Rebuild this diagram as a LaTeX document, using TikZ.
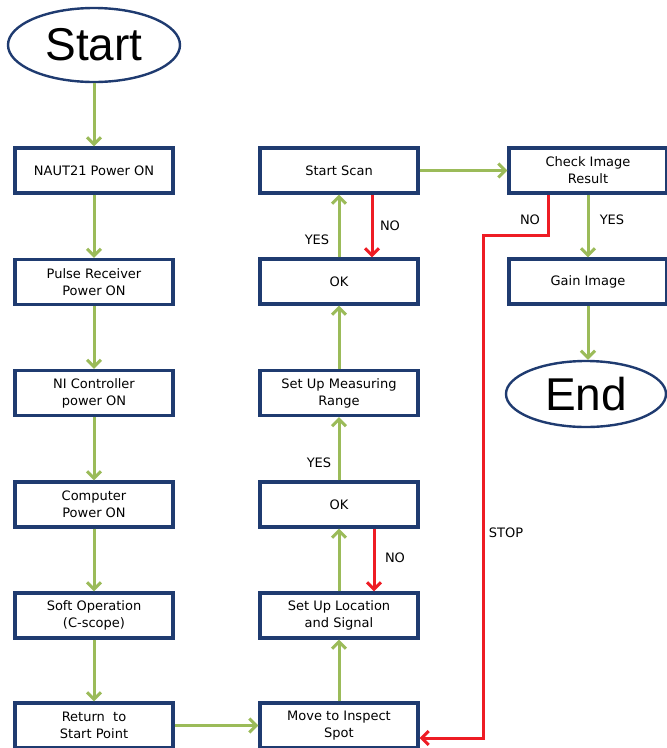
\documentclass[tikz,border=0pt]{standalone}
\usepackage{fontspec}
\setmainfont{DejaVu Sans}
\newfontfamily\bigfont{Liberation Sans}
\usetikzlibrary{arrows.meta,shapes.geometric}
\definecolor{boxblue}{HTML}{1F3B70}
\definecolor{flowgreen}{HTML}{9BBB59}
\definecolor{flowred}{HTML}{EE1C24}
\begin{document}
\begin{tikzpicture}[x=1pt,y=-1pt,
  stepbox/.style={draw=boxblue, line width=3.2pt, fill=white, minimum width=158pt, minimum height=45pt,
    align=center, inner sep=0pt, font=\fontsize{13}{17}\selectfont},
  term/.style={ellipse, draw=boxblue, line width=2.4pt, inner sep=0pt, font=\bigfont\fontsize{46}{50}\selectfont},
  garrow/.style={draw=flowgreen, line width=3pt, -{Straight Barb[length=7pt,width=14pt,line width=3pt]}},
  rarrow/.style={draw=flowred, line width=3pt, -{Straight Barb[length=7pt,width=14pt,line width=3pt]}},
  lbl/.style={font=\fontsize{13}{15}\selectfont, inner sep=0pt}]
\useasboundingbox (0,0) rectangle (667,748);
% left column
\node[term, minimum width=172pt, minimum height=74pt] (start) at (94,45) {Start};
\node[stepbox] (n1) at (94,170.5) {NAUT21 Power ON};
\node[stepbox] (n2) at (94,282) {Pulse Receiver\\Power ON};
\node[stepbox] (n3) at (94,393) {NI Controller\\power ON};
\node[stepbox] (n4) at (94,504.5) {Computer\\Power ON};
\node[stepbox] (n5) at (94,615.5) {Soft Operation\\(C-scope)};
\node[stepbox] (n6) at (94,725.5) {Return\ \ to\\Start Point};
% middle column
\node[stepbox] (m1) at (339,170.5) {Start Scan};
\node[stepbox] (m2) at (339,281.5) {OK};
\node[stepbox] (m3) at (339,393) {Set Up Measuring\\Range};
\node[stepbox] (m4) at (339,504.5) {OK};
\node[stepbox] (m5) at (339,615.5) {Set Up Location\\and Signal};
\node[stepbox] (m6) at (339,725.5) {Move to Inspect\\Spot};
% right column
\node[stepbox] (r1) at (588,170.5) {Check Image\\Result};
\node[stepbox] (r2) at (588,281.5) {Gain Image};
\node[term, minimum width=160pt, minimum height=66pt] (end) at (586,394) {End};
% green arrows
\draw[garrow] (start.south) -- (n1.north);
\draw[garrow] (n1) -- (n2);
\draw[garrow] (n2) -- (n3);
\draw[garrow] (n3) -- (n4);
\draw[garrow] (n4) -- (n5);
\draw[garrow] (n5) -- (n6);
\draw[garrow] (n6) -- (m6);
\draw[garrow] (m6) -- (m5);
\draw[garrow] (m5) -- (m4);
\draw[garrow] (m4) -- (m3);
\draw[garrow] (m3) -- (m2);
\draw[garrow] (m2) -- (m1);
\draw[garrow] (m1) -- (r1);
\draw[garrow] (r1) -- (r2);
\draw[garrow] (r2.south) -- (r2.south |- end.north);
% red arrows
\draw[rarrow] ([xshift=33pt]m1.south) -- ([xshift=33pt]m2.north);
\draw[rarrow] ([xshift=35pt]m4.south) -- ([xshift=35pt]m5.north);
\coordinate (sb) at (483,738);
\draw[rarrow] ([xshift=-40pt]r1.south) -- ++(0,41) -| (sb) -- (sb -| m6.east);
% labels
\node[lbl] (y1) at (317,240) {YES};
\node[lbl] (no1) at (390,226) {NO};
\node[lbl] (y2) at (319,463) {YES};
\node[lbl] (no2) at (395,558) {NO};
\node[lbl] (no3) at (530,220) {NO};
\node[lbl] (y3) at (612,220) {YES};
\node[lbl] (stop) at (506,533) {STOP};
\end{tikzpicture}
\end{document}
